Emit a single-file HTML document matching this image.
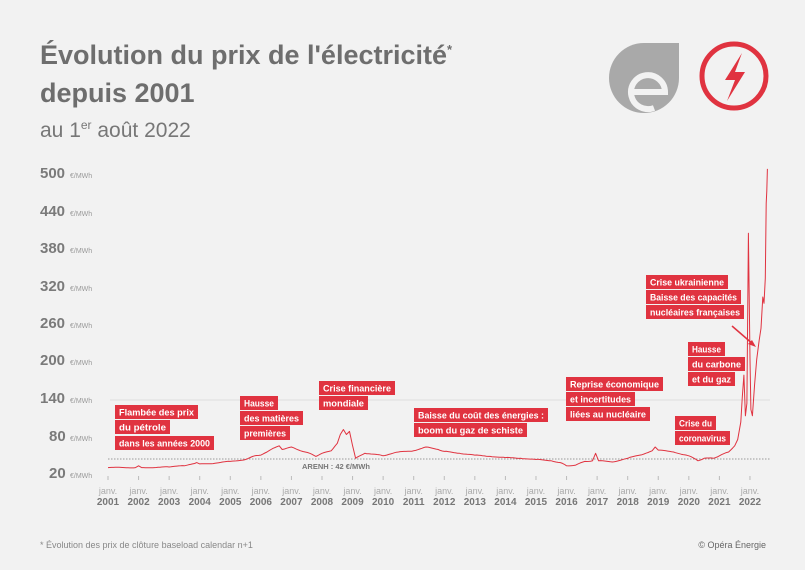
<!DOCTYPE html>
<html><head><meta charset="utf-8"><style>
body{margin:0;background:#f2f2f2;}
svg{display:block;font-family:"Liberation Sans",sans-serif;}
.t{font-weight:bold;fill:#6e6e6e;font-size:27px;}
.yl{font-weight:bold;fill:#7a7a7a;font-size:15px;}
.yu{fill:#9a9a9a;font-size:7px;}
.xl{fill:#aaa;font-size:9px;}
.xb{fill:#777;font-size:10px;font-weight:bold;}
.lb{fill:#e03340;}
.lt{fill:#fff;font-size:9.5px;font-weight:bold;}
</style></head><body>
<svg width="805" height="570" viewBox="0 0 805 570">
<rect width="805" height="570" fill="#f2f2f2"/>
<text x="40" y="64" class="t">Évolution du prix de l'électricité<tspan font-size="13" dy="-10">*</tspan></text>
<text x="40" y="102" class="t">depuis 2001</text>
<text x="40" y="137" fill="#777" font-size="21">au 1<tspan font-size="12" dy="-8">er</tspan><tspan dy="8"> août 2022</tspan></text>
<path d="M679 43 L679 78 A35 35 0 1 1 644 43 Z" fill="#a9a9a9"/>
<path d="M632 92 L665 92 A17 17 0 1 0 654 108" fill="none" stroke="#f2f2f2" stroke-width="6"/>
<circle cx="734" cy="76" r="32" fill="none" stroke="#e03340" stroke-width="5"/>
<path d="M742 53 L725 80 L735 80 L727 101 L745 72 L735 72 Z" fill="#e03340"/>
<g>
<text x="40" y="178" class="yl">500</text><text x="70" y="178" class="yu">€/MWh</text>
<text x="40" y="216" class="yl">440</text><text x="70" y="216" class="yu">€/MWh</text>
<text x="40" y="253" class="yl">380</text><text x="70" y="253" class="yu">€/MWh</text>
<text x="40" y="291" class="yl">320</text><text x="70" y="291" class="yu">€/MWh</text>
<text x="40" y="328" class="yl">260</text><text x="70" y="328" class="yu">€/MWh</text>
<text x="40" y="365" class="yl">200</text><text x="70" y="365" class="yu">€/MWh</text>
<text x="40" y="403" class="yl">140</text><text x="70" y="403" class="yu">€/MWh</text>
<text x="49" y="441" class="yl">80</text><text x="70" y="441" class="yu">€/MWh</text>
<text x="49" y="478" class="yl">20</text><text x="70" y="478" class="yu">€/MWh</text>
</g>
<line x1="110" y1="400" x2="770" y2="400" stroke="#ddd" stroke-width="1"/>
<line x1="108" y1="459" x2="770" y2="459" stroke="#999" stroke-width="1" stroke-dasharray="1.5,1.5"/>
<text x="302" y="469" fill="#777" font-size="7.5" font-weight="bold">ARENH : 42 €/MWh</text>
<g id="xa"></g>
<polyline id="ser" fill="none" stroke="#e03340" stroke-width="1" stroke-linejoin="round"/>
<line x1="732" y1="326" x2="754" y2="345" stroke="#e03340" stroke-width="1.5"/>
<path d="M756 347 L748 344 L752 340 Z" fill="#e03340"/>
<g id="labels"></g>
<text x="40" y="548" fill="#888" font-size="9">* Évolution des prix de clôture baseload calendar n+1</text>
<text x="766" y="548" fill="#666" font-size="9" text-anchor="end">© Opéra Énergie</text>
</svg>
<script>
var X=y=>108+(y-2001)*30.57, Y=v=>472-(v-20)*0.625, ns="http://www.w3.org/2000/svg";
var xa=document.getElementById("xa"),h="";
for(var yr=2001;yr<=2022;yr++){var x=X(yr);
h+='<line x1="'+x+'" y1="476" x2="'+x+'" y2="480" stroke="#bbb"/>';
h+='<text x="'+x+'" y="494" class="xl" text-anchor="middle">janv.</text><text x="'+x+'" y="505" class="xb" text-anchor="middle">'+yr+'</text>';}
xa.innerHTML=h;
var d=[[2001,27],[2001.9,27],[2002,30],[2002.1,27],[2003,28],[2003.5,30],[2003.9,35],[2004,33],[2004.5,34],[2005,37],[2005.5,40],[2005.8,46],[2006,47],[2006.2,52],[2006.4,58],[2006.6,62],[2006.7,56],[2007,60],[2007.3,54],[2007.6,50],[2007.8,45],[2008,50],[2008.3,54],[2008.5,66],[2008.6,80],[2008.7,88],[2008.8,80],[2008.9,85],[2009,62],[2009.1,42],[2009.4,50],[2009.8,48],[2010,46],[2010.5,52],[2011,54],[2011.4,60],[2011.8,56],[2012,53],[2012.5,50],[2013,47],[2013.5,45],[2014,43],[2014.5,42],[2015,40],[2015.5,38],[2015.8,35],[2016,30],[2016.3,31],[2016.6,37],[2016.85,38],[2016.95,50],[2017.05,38],[2017.5,36],[2018,42],[2018.4,47],[2018.8,54],[2018.9,60],[2019,55],[2019.5,52],[2020,46],[2020.3,38],[2020.5,42],[2020.8,42],[2021,46],[2021.3,52],[2021.5,62],[2021.6,72],[2021.7,100],[2021.75,140],[2021.8,175],[2021.85,110],[2021.9,130],[2021.95,402],[2022.0,200],[2022.03,120],[2022.08,110],[2022.15,160],[2022.22,200],[2022.3,230],[2022.36,250],[2022.42,300],[2022.46,290],[2022.5,330],[2022.53,450],[2022.55,470],[2022.57,505]];
var pts=[];for(var i=0;i<d.length;i++){pts.push(d[i]);if(i<d.length-1&&d[i+1][0]-d[i][0]>0.15){var n=Math.floor((d[i+1][0]-d[i][0])/0.06);for(var k=1;k<n;k++){var f=k/n;pts.push([d[i][0]+f*(d[i+1][0]-d[i][0]),d[i][1]+f*(d[i+1][1]-d[i][1])+(Math.sin(k*12.9+i*3.1)*0.5)]);}}}
document.getElementById("ser").setAttribute("points",pts.map(p=>X(p[0]).toFixed(1)+","+Y(p[1]).toFixed(1)).join(" "));
var L=[[115,405,"Flambée des prix",83],[115,420,"du pétrole",55],[115,436,"dans les années 2000",99],
[240,396,"Hausse",38],[240,411,"des matières",63],[240,426,"premières",50],
[319,381,"Crise financière",76],[319,396,"mondiale",49],
[414,408,"Baisse du coût des énergies :",134],[414,423,"boom du gaz de schiste",113],
[566,377,"Reprise économique",97],[566,392,"et incertitudes",69],[566,407,"liées au nucléaire",84],
[675,416,"Crise du",41],[675,431,"coronavirus",55],
[688,342,"Hausse",37],[688,357,"du carbone",57],[688,372,"et du gaz",47],
[646,275,"Crise ukrainienne",82],[646,290,"Baisse des capacités",95],[646,305,"nucléaires françaises",98]];
var g=document.getElementById("labels");
L.forEach(l=>{var r=document.createElementNS(ns,"rect");r.setAttribute("x",l[0]);r.setAttribute("y",l[1]);r.setAttribute("width",l[3]);r.setAttribute("height",14);r.setAttribute("class","lb");g.appendChild(r);
var t=document.createElementNS(ns,"text");t.setAttribute("x",l[0]+4);t.setAttribute("y",l[1]+10.5);t.setAttribute("class","lt");t.setAttribute("textLength",l[3]-8);t.setAttribute("lengthAdjust","spacingAndGlyphs");t.textContent=l[2];g.appendChild(t);});
</script>
</body></html>
